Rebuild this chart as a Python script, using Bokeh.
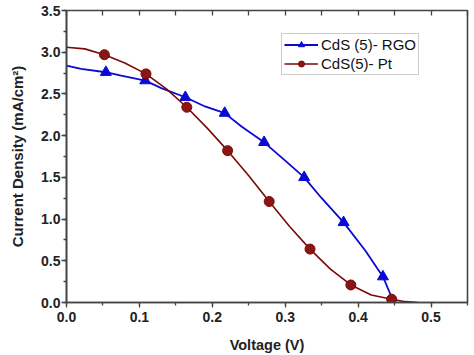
from bokeh.plotting import figure
from bokeh.models import LinearAxis, SingleIntervalTicker, Range1d, NumeralTickFormatter, Legend, LegendItem
from bokeh.embed import file_html
from bokeh.resources import INLINE

# RGO curve (line) and marker points
rgo_line_v = [0.0, 0.02, 0.054, 0.075, 0.108, 0.13, 0.163, 0.19, 0.217, 0.24, 0.271, 0.30, 0.326, 0.35, 0.38, 0.41, 0.434, 0.449]
rgo_line_j = [2.84, 2.80, 2.76, 2.72, 2.66, 2.57, 2.46, 2.35, 2.27, 2.11, 1.92, 1.70, 1.50, 1.25, 0.96, 0.62, 0.31, 0.0]
rgo_mark_v = [0.054, 0.108, 0.163, 0.217, 0.271, 0.326, 0.38, 0.434]
rgo_mark_j = [2.76, 2.66, 2.46, 2.27, 1.92, 1.50, 0.96, 0.31]

pt_line_v = [0.0, 0.025, 0.052, 0.08, 0.109, 0.137, 0.165, 0.193, 0.221, 0.25, 0.278, 0.306, 0.334, 0.362, 0.39, 0.418, 0.446, 0.465, 0.482]
pt_line_j = [3.06, 3.04, 2.97, 2.87, 2.74, 2.56, 2.34, 2.09, 1.82, 1.52, 1.21, 0.91, 0.64, 0.40, 0.21, 0.09, 0.04, 0.01, 0.0]
pt_mark_v = [0.052, 0.109, 0.165, 0.221, 0.278, 0.334, 0.39, 0.446]
pt_mark_j = [2.97, 2.74, 2.34, 1.82, 1.21, 0.64, 0.21, 0.04]

labels = ["CdS (5)- RGO", "CdS(5)- Pt"]

blue = "#0a0ad2"
red = "#7a0a0a"
redfill = "#8b1414"

p = figure(width=474, height=355, output_backend="svg", toolbar_location=None,
           x_range=Range1d(0, 0.55), y_range=Range1d(0, 3.5),
           min_border_left=66, min_border_right=7, min_border_top=10, min_border_bottom=52)
p.grid.visible = False
p.outline_line_color = "#444444"
p.outline_line_width = 1.6
p.background_fill_color = "white"

l1 = p.line(rgo_line_v, rgo_line_j, line_color=blue, line_width=1.8)
m1 = p.scatter(rgo_mark_v, rgo_mark_j, marker="triangle", size=11, fill_color=blue, line_color=blue)
l2 = p.line(pt_line_v, pt_line_j, line_color=red, line_width=1.6)
m2 = p.scatter(pt_mark_v, pt_mark_j, marker="circle", size=10, fill_color=redfill, line_color=red)

font = "Liberation Sans"
for ax in [p.xaxis[0], p.yaxis[0]]:
    ax.axis_line_width = 1.6
    ax.axis_line_color = "#444444"
    ax.major_tick_line_color = "#444444"
    ax.minor_tick_line_color = "#444444"
    ax.major_tick_line_width = 1.3
    ax.minor_tick_line_width = 1.3
    ax.major_tick_in = 0
    ax.major_tick_out = 5
    ax.minor_tick_in = 0
    ax.minor_tick_out = 3
    ax.major_label_text_font = font
    ax.major_label_text_font_style = "bold"
    ax.major_label_text_font_size = "14px"
    ax.major_label_text_color = "#222222"
    ax.axis_label_text_font = font
    ax.axis_label_text_font_style = "bold"
    ax.axis_label_text_font_size = "14.5px"
    ax.axis_label_text_color = "#222222"
    ax.formatter = NumeralTickFormatter(format="0.0")

p.xaxis[0].ticker = SingleIntervalTicker(interval=0.1, num_minor_ticks=2)
p.yaxis[0].ticker = SingleIntervalTicker(interval=0.5, num_minor_ticks=2)
p.xaxis[0].axis_label = "Voltage (V)"
p.yaxis[0].axis_label = "Current Density (mA/cm²)"
p.yaxis[0].axis_label_text_font_size = "15px"
p.xaxis[0].major_label_standoff = 4
p.xaxis[0].axis_label_standoff = 12
p.yaxis[0].major_label_standoff = 1
p.yaxis[0].axis_label_standoff = 12

top = LinearAxis(ticker=SingleIntervalTicker(interval=0.05, num_minor_ticks=0))
top.major_label_text_font_size = "0px"
top.major_label_text_alpha = 0
top.axis_line_color = None
top.major_tick_in = 5
top.major_tick_out = 0
top.major_tick_line_color = "#444444"
top.major_tick_line_width = 1.3
top.minor_tick_line_color = None
p.add_layout(top, "above")

legend = Legend(items=[LegendItem(label=labels[0], renderers=[l1, m1]),
                       LegendItem(label=labels[1], renderers=[l2, m2])],
                location=(215, 227))
legend.label_text_font = font
legend.label_text_font_size = "15px"
legend.label_text_color = "#111111"
legend.border_line_color = "#999999"
legend.border_line_width = 1
legend.glyph_width = 34
legend.glyph_height = 15
legend.label_height = 15
legend.spacing = 2
legend.padding = 2
legend.margin = 0
legend.label_standoff = 3
legend.background_fill_alpha = 1
p.add_layout(legend, "center")

open("out.html", "w").write(file_html(p, INLINE))
